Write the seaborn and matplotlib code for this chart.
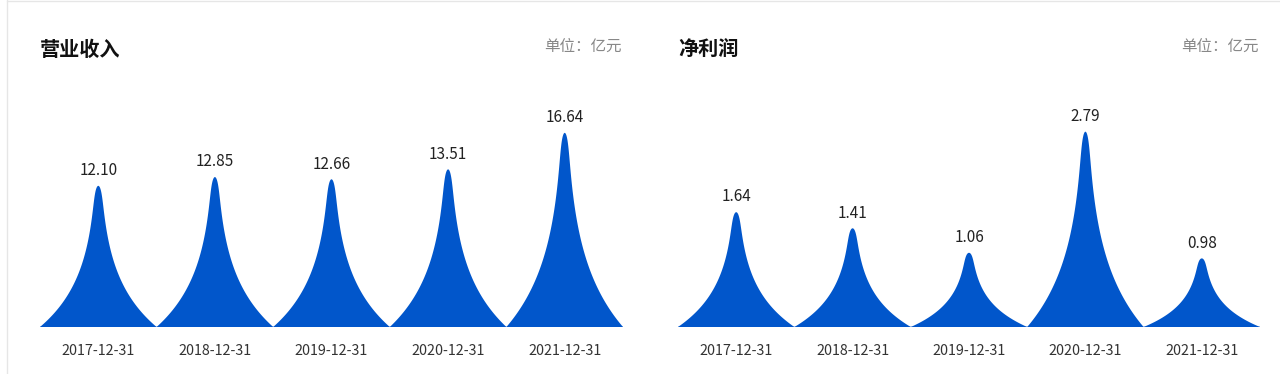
# %%
import numpy as np
import pandas as pd
import matplotlib
matplotlib.use('Agg')
import matplotlib.pyplot as plt
from matplotlib.lines import Line2D
import seaborn as sns

# %% dados
dates = ['2017-12-31', '2018-12-31', '2019-12-31', '2020-12-31', '2021-12-31']
revenue = [12.10, 12.85, 12.66, 13.51, 16.64]
net_profit = [1.64, 1.41, 1.06, 2.79, 0.98]
titles = ['营业收入', '净利润']
unit = '单位：亿元'

df = pd.DataFrame({'date': dates, 'revenue': revenue, 'net_profit': net_profit})

# %%
sns.set_theme(style='white')
plt.rcParams['font.family'] = ['Noto Sans CJK SC', 'DejaVu Sans']

BLUE = '#0156cb'

# perfil do "pico" (meia largura em função da altura normalizada), ponta arredondada
hy = 1 - (1 - np.linspace(0, 1, 300)) ** 2
hw = 0.5 * np.exp(-2.85 * hy) * np.sqrt(np.clip(1 - hy ** 20, 0, None))


def peak_chart(ax, values, ymax):
    for i, v in enumerate(values):
        xs = np.concatenate([i - hw, (i + hw)[::-1]])
        ys = np.concatenate([hy * v, (hy * v)[::-1]])
        ax.fill(xs, ys, color=BLUE, lw=0)
        ax.annotate(f'{v:.2f}', (i, v), xytext=(0, 11), textcoords='offset points',
                    ha='center', va='center', fontsize=11, color='#222222')
    ax.axhline(0, color='#b9cff0', lw=1.2, zorder=0)
    ax.set_xlim(-0.5, len(values) - 0.5)
    ax.set_ylim(0, ymax)
    ax.set_xticks(range(len(values)))
    ax.set_xticklabels(df['date'])
    ax.set_yticks([])
    ax.tick_params(axis='x', length=0, pad=12, labelsize=10.3, labelcolor='#333333')
    sns.despine(ax=ax, left=True, bottom=True)
    ax.patch.set_alpha(0)


fig = plt.figure(figsize=(12.8, 3.74), dpi=100)
W, H = 1280, 374
ax1 = fig.add_axes([40 / W, 47 / H, 583 / W, 210 / H])
ax2 = fig.add_axes([678 / W, 47 / H, 582 / W, 210 / H])

peak_chart(ax1, df['revenue'], 18)
peak_chart(ax2, df['net_profit'], 3)

# títulos
for x0, x1, title in [(40, 622, titles[0]), (678, 1259, titles[1])]:
    fig.text(x0 / W, 1 - 49 / H, title, ha='left', va='center',
             fontsize=14.5, fontweight='bold', color='#111111')
    fig.text(x1 / W, 1 - 46 / H, unit, ha='right', va='center',
             fontsize=11.2, color='#888888')

# moldura
fig.add_artist(Line2D([7 / W, 7 / W], [0, 1], transform=fig.transFigure, color='#e6e6e6', lw=1))
fig.add_artist(Line2D([7 / W, 1], [1 - 0.5 / H, 1 - 0.5 / H], transform=fig.transFigure, color='#e6e6e6', lw=1))

fig.savefig('out.png', dpi=100, facecolor='white')
